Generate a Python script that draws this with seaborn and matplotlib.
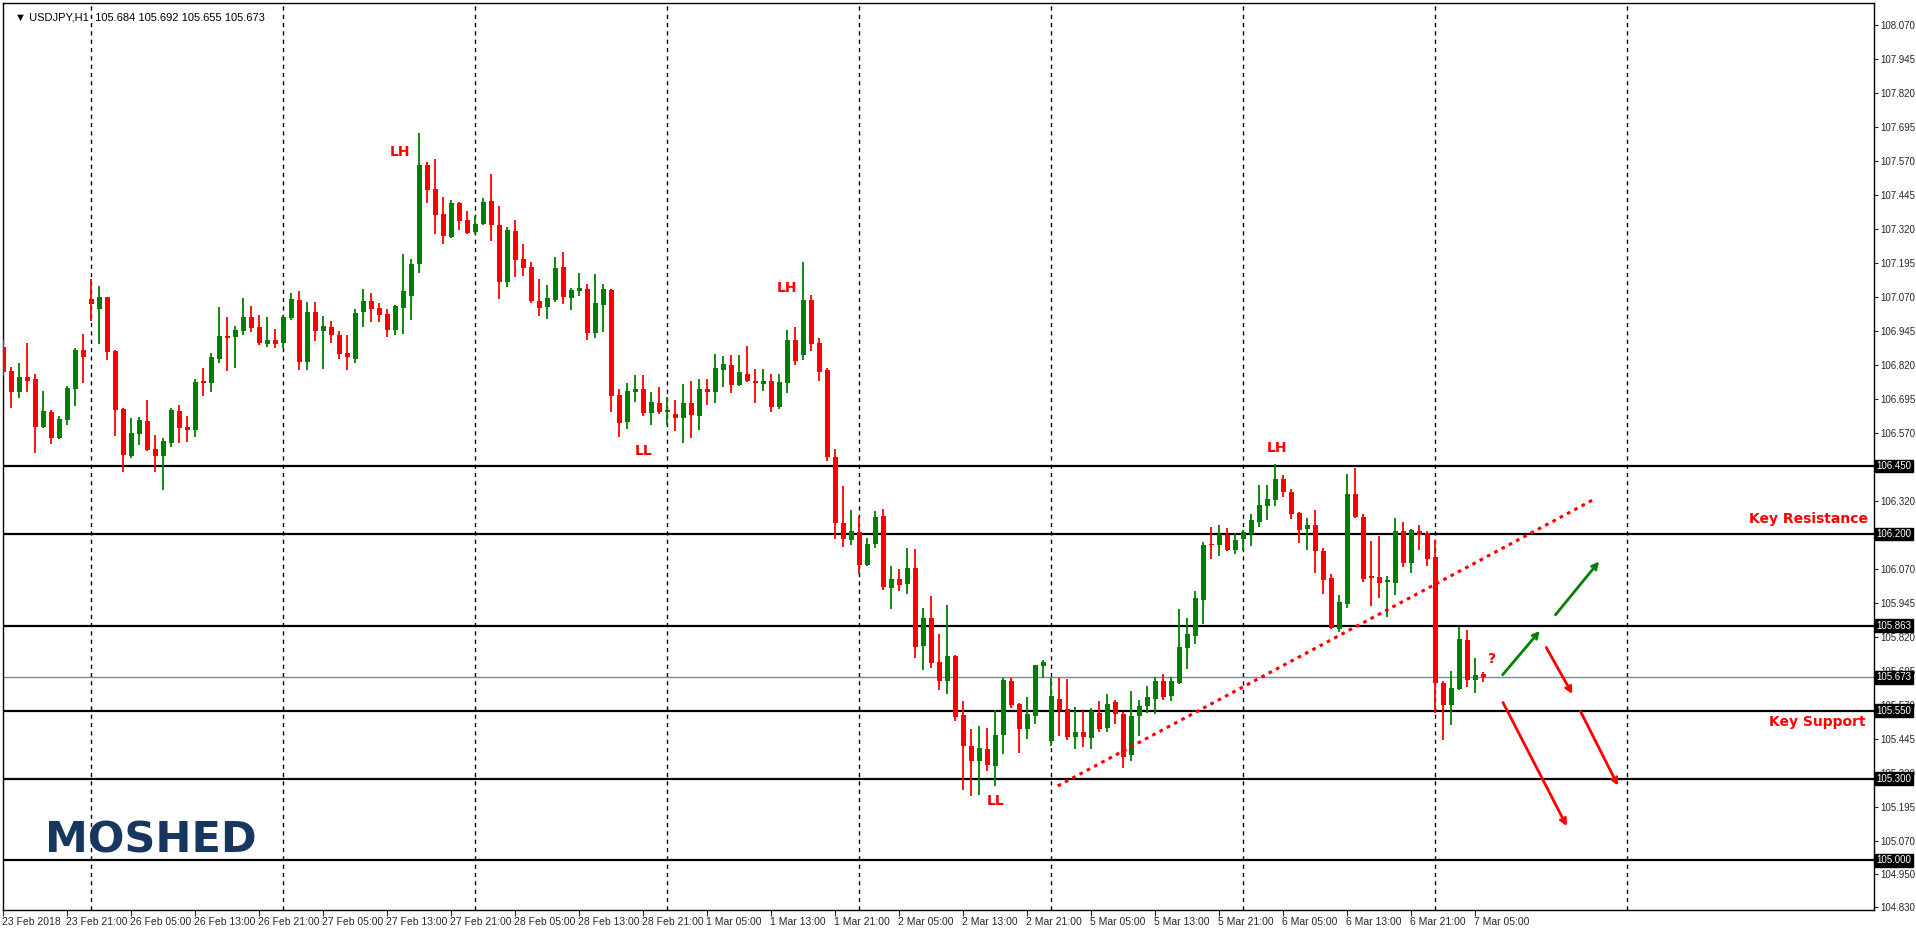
import numpy as np
import pandas as pd
import matplotlib
matplotlib.use("Agg")
import matplotlib.pyplot as plt
import matplotlib.transforms as mtrans
import seaborn as sns

opens = [106.889,106.799,106.723,106.777,106.770,106.594,106.648,106.554,106.619,106.733,
106.877,107.064,107.028,107.071,106.873,106.659,106.487,106.567,106.615,106.512,
106.487,106.534,106.652,106.593,106.582,106.758,106.755,106.843,106.928,106.924,
106.948,106.998,106.961,106.900,106.914,106.904,106.995,107.061,106.834,107.017,
106.948,106.961,106.932,106.867,106.845,107.017,107.057,107.031,107.009,106.950,
107.031,107.075,107.193,107.557,107.469,107.377,107.292,107.417,107.355,107.311,
107.340,107.425,107.336,107.127,107.314,107.211,107.182,107.057,107.035,107.060,
107.182,107.068,107.093,107.101,106.939,107.042,107.097,106.711,106.611,106.722,
106.733,106.645,106.682,106.649,106.641,106.627,106.682,106.634,106.733,106.722,
106.803,106.821,106.748,106.788,106.763,106.751,106.763,106.667,106.755,106.913,
106.858,107.060,106.902,106.803,106.483,106.240,106.178,106.207,106.086,106.163,
106.266,106.001,106.035,106.016,106.075,105.788,105.891,105.729,105.659,105.751,
105.534,105.420,105.365,105.409,105.347,105.461,105.659,105.575,105.483,105.531,
105.714,105.439,105.593,105.556,105.453,105.472,105.450,105.542,105.486,105.582,
105.538,105.387,105.531,105.567,105.593,105.659,105.604,105.652,105.780,105.825,
105.957,106.163,106.159,106.196,106.141,106.182,106.200,106.244,106.303,106.325,
106.402,106.354,106.277,106.218,106.233,106.137,106.038,105.851,105.943,106.347,
106.262,106.045,106.042,106.023,106.020,106.211,106.093,106.211,106.204,106.115,
105.652,105.571,105.630,105.810,105.663,105.684]
highs = [106.913,106.815,106.829,106.902,106.788,106.726,106.655,106.634,106.745,106.884,
106.935,107.136,107.112,107.071,106.877,106.662,106.626,106.630,106.692,106.564,
106.553,106.663,106.674,106.634,106.770,106.810,106.865,107.034,106.997,106.964,
107.068,107.039,107.006,106.998,106.952,107.006,107.086,107.094,107.053,107.053,
107.002,106.983,106.948,106.930,107.028,107.101,107.086,107.050,107.028,107.042,
107.230,107.211,107.675,107.568,107.579,107.439,107.428,107.420,107.388,107.370,
107.436,107.524,107.406,107.330,107.354,107.266,107.200,107.138,107.115,107.218,
107.237,107.105,107.160,107.119,107.156,107.119,107.101,106.733,106.755,106.785,
106.785,106.722,106.740,106.704,106.693,106.753,106.763,106.770,106.770,106.862,
106.854,106.858,106.858,106.891,106.807,106.807,106.788,106.788,106.950,106.960,
107.200,107.080,106.921,106.810,106.512,106.376,106.288,106.266,106.185,106.285,
106.292,106.082,106.071,106.149,106.145,105.928,105.972,105.832,105.939,105.755,
105.586,105.483,105.494,105.486,105.553,105.670,105.670,105.580,105.600,105.720,
105.736,105.670,105.670,105.667,105.564,105.549,105.560,105.586,105.611,105.590,
105.545,105.622,105.589,105.641,105.674,105.685,105.674,105.924,105.891,105.990,
106.170,106.226,106.233,106.222,106.204,106.215,106.273,106.380,106.380,106.457,
106.417,106.365,106.280,106.259,106.288,106.148,106.053,105.976,106.420,106.443,
106.273,106.174,106.193,106.045,106.259,106.244,106.218,106.233,106.210,106.178,
105.659,105.696,105.858,105.847,105.744,105.692]
lows = [106.782,106.665,106.701,106.723,106.499,106.591,106.532,106.550,106.600,106.672,
106.756,106.982,106.900,106.840,106.560,106.429,106.479,106.527,106.505,106.429,
106.362,106.520,106.534,106.538,106.557,106.707,106.722,106.828,106.799,106.810,
106.930,106.941,106.896,106.889,106.885,106.883,106.987,106.803,106.803,106.911,
106.808,106.904,106.845,106.803,106.827,106.961,106.980,106.980,106.926,106.933,
106.937,106.985,107.160,107.417,107.303,107.267,107.288,107.318,107.303,107.303,
107.336,107.278,107.064,107.109,107.146,107.149,107.049,107.002,106.990,107.053,
107.046,107.024,107.075,106.913,106.921,106.943,106.649,106.557,106.586,106.685,
106.634,106.601,106.641,106.601,106.579,106.535,106.553,106.583,106.674,106.682,
106.741,106.718,106.744,106.759,106.682,106.726,106.649,106.660,106.719,106.821,
106.840,106.873,106.763,106.468,106.182,106.152,106.160,106.053,106.082,106.149,
105.994,105.924,105.990,105.979,105.744,105.700,105.706,105.626,105.611,105.512,
105.258,105.236,105.240,105.328,105.273,105.391,105.560,105.394,105.446,105.501,
105.670,105.420,105.457,105.442,105.409,105.417,105.409,105.472,105.472,105.501,
105.339,105.365,105.457,105.541,105.538,105.589,105.586,105.648,105.703,105.795,
105.869,106.108,106.119,106.137,106.126,106.137,106.156,106.226,106.251,106.303,
106.336,106.255,106.167,106.141,106.057,105.979,105.851,105.840,105.928,106.259,
106.023,105.935,105.965,105.895,105.976,106.078,106.057,106.141,106.082,105.542,
105.443,105.498,105.626,105.637,105.615,105.655]
closes = [106.797,106.723,106.777,106.764,106.594,106.652,106.554,106.623,106.738,106.877,
106.852,107.047,107.071,106.870,106.656,106.490,106.571,106.619,106.509,106.487,
106.542,106.656,106.590,106.582,106.759,106.755,106.850,106.928,106.920,106.950,
106.998,106.959,106.904,106.914,106.897,106.998,107.064,106.834,107.017,106.948,
106.965,106.930,106.863,106.849,107.013,107.057,107.028,107.006,106.950,107.039,
107.094,107.193,107.557,107.465,107.373,107.296,107.417,107.351,107.307,107.340,
107.421,107.336,107.127,107.318,107.207,107.178,107.057,107.031,107.068,107.178,
107.071,107.097,107.104,106.939,107.049,107.101,106.707,106.608,106.726,106.733,
106.645,106.685,106.649,106.653,106.627,106.682,106.638,106.733,106.722,106.810,
106.825,106.748,106.796,106.763,106.755,106.763,106.667,106.759,106.913,106.836,
107.060,106.899,106.796,106.483,106.240,106.182,106.211,106.086,106.163,106.263,
106.005,106.035,106.013,106.075,105.785,105.891,105.726,105.659,105.751,105.527,
105.420,105.365,105.413,105.350,105.461,105.663,105.571,105.483,105.538,105.718,
105.729,105.604,105.553,105.453,105.472,105.453,105.549,105.483,105.575,105.538,
105.380,105.531,105.567,105.600,105.659,105.600,105.659,105.784,105.832,105.964,
106.159,106.159,106.200,106.141,106.178,106.207,106.251,106.306,106.329,106.402,
106.354,106.273,106.215,106.233,106.137,106.031,105.854,105.950,106.347,106.262,
106.034,106.038,106.020,106.031,106.211,106.093,106.215,106.196,106.108,105.652,
105.571,105.634,105.814,105.663,105.682,105.673]

time_labels = ["23 Feb 2018","23 Feb 21:00","26 Feb 05:00","26 Feb 13:00","26 Feb 21:00",
"27 Feb 05:00","27 Feb 13:00","27 Feb 21:00","28 Feb 05:00","28 Feb 13:00","28 Feb 21:00",
"1 Mar 05:00","1 Mar 13:00","1 Mar 21:00","2 Mar 05:00","2 Mar 13:00","2 Mar 21:00",
"5 Mar 05:00","5 Mar 13:00","5 Mar 21:00","6 Mar 05:00","6 Mar 13:00","6 Mar 21:00","7 Mar 05:00"]
level_lines = [106.450, 106.200, 105.863, 105.550, 105.300, 105.000]
current_price = 105.673
price_ticks = [108.070,107.945,107.820,107.695,107.570,107.445,107.320,107.195,107.070,
106.945,106.820,106.695,106.570,106.320,106.070,105.945,105.820,105.695,105.570,105.445,
105.320,105.195,105.070,104.950,104.830]
day_separators = [11, 35, 59, 83, 107, 131, 155, 179, 203]
trend_x = [131.8, 199.0]
trend_y = [105.274, 106.330]
green_arrows = [((187.2, 105.675), (192.3, 105.852)), ((193.8, 105.895), (199.7, 106.107))]
red_arrows = [((192.7, 105.792), (196.3, 105.603)), ((197.0, 105.557), (202.0, 105.266)),
              ((187.3, 105.590), (195.6, 105.117))]
annotations = [("LH", 49.6, 107.606), ("LH", 98.0, 107.104), ("LL", 80.0, 106.505),
               ("LH", 159.2, 106.517), ("LL", 124.0, 105.220), ("?", 186.1, 105.740)]

sns.set_style("white")
plt.rcParams['font.family'] = ['Liberation Sans', 'DejaVu Sans']

df = pd.DataFrame({"o": opens, "h": highs, "l": lows, "c": closes})
df["i"] = np.arange(len(df))
GREEN, RED = "#008000", "#ff0000"
df["col"] = np.where(df.c >= df.o, GREEN, RED)

fig = plt.figure(figsize=(19.16, 9.31), dpi=100)
ax = fig.add_axes([3/1916, 21/931, 1871/1916, 907/931])
ax.set_xlim(-0.04, 233.84)
ax.set_ylim(104.818, 108.152)

for xs in day_separators:
    ax.axvline(xs, color="black", lw=1.0, ls=(0, (3, 3)), zorder=1)
for lv in level_lines:
    ax.axhline(lv, color="black", lw=1.6, zorder=2)
ax.axhline(current_price, color="#778899", lw=1.0, zorder=2)

ax.vlines(df.i, df.l, df.h, colors=df.col, lw=1.3, zorder=3)
bot = np.minimum(df.o, df.c)
hgt = np.maximum(np.abs(df.c - df.o), 0.006)
ax.bar(df.i, hgt, bottom=bot, width=0.62, color=df.col, linewidth=0, zorder=4)

sns.lineplot(x=trend_x, y=trend_y, ax=ax, color=RED, lw=2.2, linestyle=(0, (1.2, 1.5)), zorder=5)
for (a, b) in green_arrows:
    ax.annotate("", xy=b, xytext=a, arrowprops=dict(arrowstyle="->", color=GREEN, lw=2.0), zorder=6)
for (a, b) in red_arrows:
    ax.annotate("", xy=b, xytext=a, arrowprops=dict(arrowstyle="->", color=RED, lw=2.0), zorder=6)
for t, x, y in annotations:
    ax.text(x, y, t, color=RED, fontsize=10, fontweight="bold", family="DejaVu Sans",
            ha="center", va="center", zorder=7)
ax.text(225.6, 106.255, "Key Resistance", color=RED, fontsize=10, fontweight="bold",
        family="DejaVu Sans", ha="center", va="center")
ax.text(226.7, 105.509, "Key Support", color=RED, fontsize=10, fontweight="bold",
        family="DejaVu Sans", ha="center", va="center")

ax.text(0.0224, 0.0765, "MOSHED", transform=ax.transAxes, color="#17375e", fontsize=31,
        fontweight="heavy", family="DejaVu Sans", ha="left", va="center")
ax.text(0.0065, 0.99, "\u25BC USDJPY,H1  105.684 105.692 105.655 105.673", transform=ax.transAxes,
        fontsize=8, color="black", ha="left", va="top")

ax.yaxis.tick_right()
ax.set_yticks(price_ticks)
ax.set_yticklabels([f"{v:.3f}" for v in price_ticks])
ax.tick_params(axis="y", right=True, length=3, width=0.8, labelsize=7, pad=1.5, direction="out")
ax.set_xticks(np.arange(0, 8 * len(time_labels), 8))
ax.set_xticklabels(time_labels)
ax.tick_params(axis="x", bottom=True, length=4, width=0.8, labelsize=7.5, pad=1, direction="out")
offset = mtrans.ScaledTranslation(-1/72, 0, fig.dpi_scale_trans)
for lbl in ax.get_xticklabels():
    lbl.set_horizontalalignment("left")
    lbl.set_transform(lbl.get_transform() + offset)

trans = mtrans.blended_transform_factory(ax.transAxes, ax.transData)
for lv in level_lines + [current_price]:
    ax.text(1.0012, lv, f"{lv:.3f}", transform=trans, fontsize=7, color="white", ha="left", va="center",
            bbox=dict(boxstyle="square,pad=0.15", fc="black", ec="black"), zorder=10, clip_on=False)

for s in ax.spines.values():
    s.set_color("black")
    s.set_linewidth(1.0)
ax.grid(False)
ax.set_xlabel("")
ax.set_ylabel("")
fig.savefig("out.png", dpi=100, facecolor="white")
